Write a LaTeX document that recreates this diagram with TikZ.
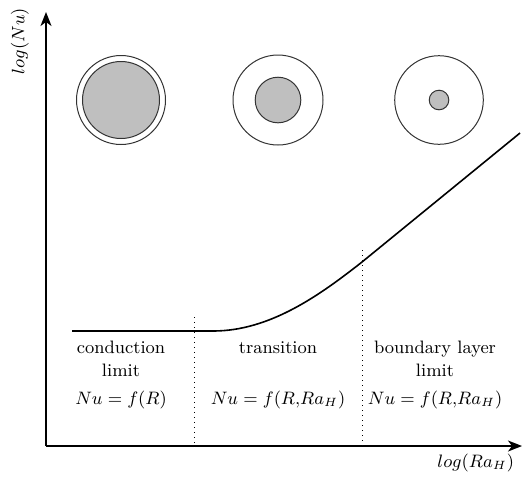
\documentclass[tikz,border=0pt]{standalone}
\usetikzlibrary{arrows.meta}
\begin{document}
\begin{tikzpicture}[x=0.5pt, y=-0.5pt,
          every node/.style={font=\fontsize{9}{11.5}\selectfont},
          axis/.style={line width=0.8pt, -{Stealth[length=7pt, width=5.5pt, inset=2pt]}},
          shell/.style={shape=circle, draw=black!80, line width=0.5pt, inner sep=0pt},
          core/.style={shell, fill=black!25},
          divider/.style={dotted, line width=0.5pt},
          regime/.style={align=center}]
  \useasboundingbox (0,0) rectangle (522,478);
  % axes
  \coordinate (origin) at (46,446);
  \coordinate (ytip) at (46,12);
  \coordinate (xtip) at (522,446);
  \draw[axis] (origin) -- (ytip);
  \draw[axis] (origin) -- (xtip);
  \node[rotate=90] (ylabel) at (20,41) {$log(Nu)$};
  \node[anchor=east] (xlabel) at (521,463) {$log(Ra_H)$};
  % cylinders
  \node[shell, minimum size=44.5pt] (outerA) at (121,100) {};
  \node[core, minimum size=38.5pt] (innerA) at (121,100) {};
  \node[shell, minimum size=45pt] (outerB) at (278,100) {};
  \node[core, minimum size=22.8pt] (innerB) at (278,100) {};
  \node[shell, minimum size=44.3pt] (outerC) at (439,100) {};
  \node[core, minimum size=9.8pt] (innerC) at (439,100) {};
  % Nusselt curve
  \coordinate (flatL) at (72,331);
  \coordinate (flatR) at (213,331);
  \coordinate (knee) at (362,262);
  \coordinate (curveEnd) at (520,133);
  \draw[line width=0.8pt] (flatL) -- (flatR) .. controls (270,331) and (320,295) .. (knee) -- (curveEnd);
  % regime borders
  \coordinate (divA) at (194,317);
  \coordinate (divB) at (362,250);
  \draw[divider] (divA) -- (divA |- origin);
  \draw[divider] (divB) -- (divB |- origin);
  % regimes
  \node[regime] (condText) at (121,359) {conduction\\limit};
  \node[regime] (condLaw) at (121,400) {$Nu = f(R)$};
  \node[regime] (transText) at (278,348) {transition};
  \node[regime] (transLaw) at (278,400) {$Nu = f(R{,}Ra_H)$};
  \node[regime] (blText) at (435,359) {boundary layer\\limit};
  \node[regime] (blLaw) at (435,400) {$Nu = f(R{,}Ra_H)$};
\end{tikzpicture}
\end{document}
